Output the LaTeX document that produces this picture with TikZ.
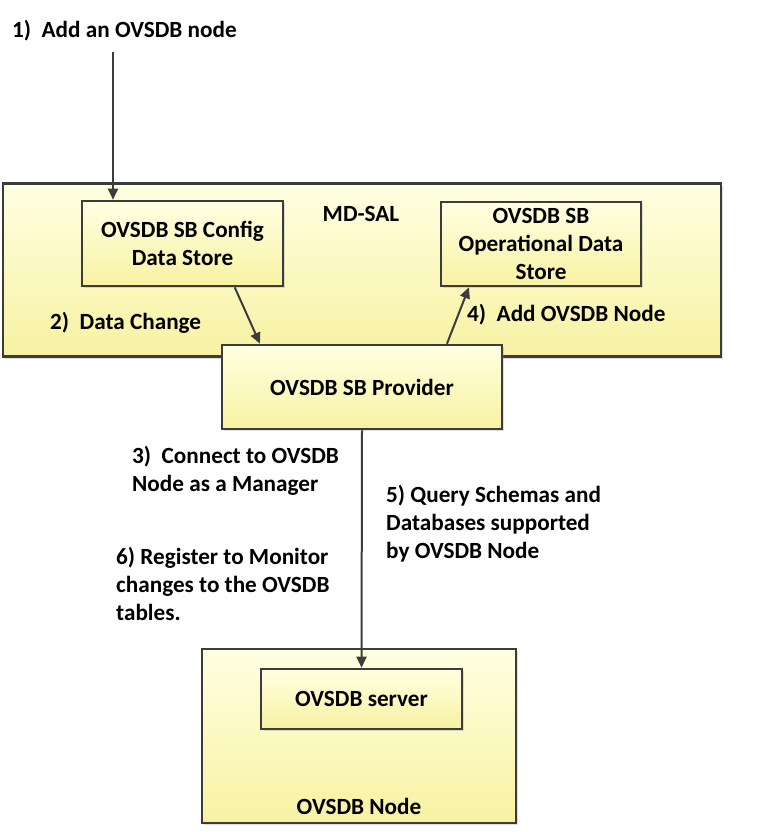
\documentclass[tikz,border=0pt]{standalone}
\usepackage{fontspec}
\setmainfont{Carlito}
\usepackage{xcolor}
\definecolor{boxtop}{RGB}{255, 255, 226}
\definecolor{boxbottom}{RGB}{247, 242, 162}
\definecolor{boxline}{RGB}{60, 60, 60}
\usetikzlibrary{
    arrows.meta,
    positioning,
    shadows
}
\tikzstyle{box} = [
    rectangle, draw=boxline,
    line width=2.6pt,
    top color=boxtop,
    bottom color=boxbottom,
    text centered,
    align=center,
    drop shadow={opacity=0.25, shadow xshift=2pt, shadow yshift=-2pt}
]
\tikzstyle{note} = [
    align=left,
    inner sep=0pt
]
\tikzstyle{arrow} = [
    line width=2pt,
    draw=boxline,
    -{Triangle[length=11pt,width=10pt]}
]

\begin{document}
\begin{tikzpicture}[
	x=1pt, y=-1pt,
	font=\fontsize{23.2}{28}\selectfont\bfseries
]
\useasboundingbox (0,0) rectangle (779,832);

\node (title) [note, anchor=west] at (12,31) {1)\ \ Add an OVSDB node};

% MD-SAL
\node (mdsal) [box, minimum width=718, minimum height=173] at (362,270) {};
\node (mdsaltext) [note] at (361,214) {MD-SAL};
\node (config) [box, minimum width=201, minimum height=85] at (182.5,243.5)
    {OVSDB SB Config\\Data Store};
\node (oper) [box, minimum width=200, minimum height=84] at (541,244)
    {OVSDB SB\\Operational Data\\Store};

\node (provider) [box, minimum width=280, minimum height=84] at (362,387)
    {OVSDB SB Provider};

% OVSDB node
\node (ovsdbnode) [box, minimum width=314, minimum height=174] at (359,736) {};
\node (nodetext) [note] at (359,806) {OVSDB Node};
\node (server) [box, minimum width=201, minimum height=60] at (361.5,699)
    {OVSDB server};

\node (change) [note, anchor=west] at (50,323) {2)\ \ Data Change};
\node (addnode) [note, anchor=west] at (467,315) {4)\ \ Add OVSDB Node};
\node (connect) [note, anchor=west] at (132,471)
    {3)\ \ Connect to OVSDB\\Node as a Manager};
\node (query) [note, anchor=west] at (386,524)
    {5) Query Schemas and\\Databases supported\\by OVSDB Node};
\node (register) [note, anchor=west] at (116,584)
    {6) Register to Monitor\\changes to the OVSDB\\tables.};

\coordinate (start) at (113,52);
\draw [arrow] (start) -- (start |- config.north);
\draw [arrow] (config.-40) -- (provider.157);
\draw [arrow] (provider.27) -- (oper.211);
\draw [arrow] (provider.south) -- (server.north);

\end{tikzpicture}
\end{document}
